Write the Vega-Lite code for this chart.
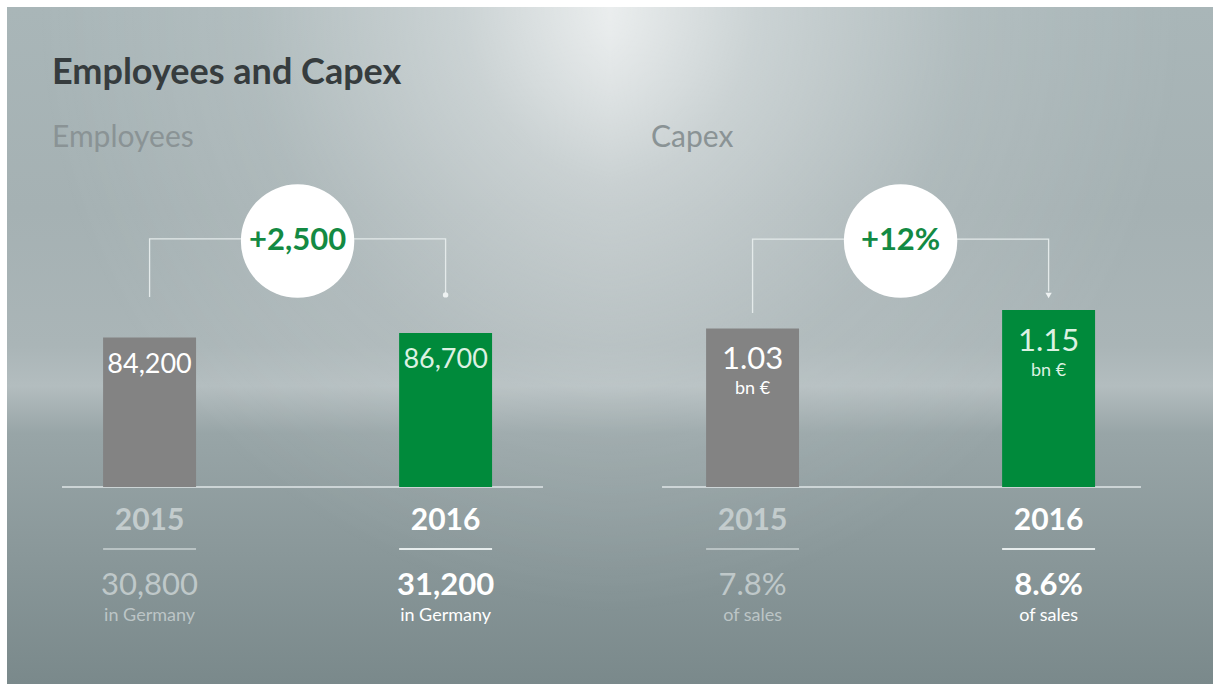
{
  "$schema": "https://vega.github.io/schema/vega-lite/v6.json",
  "background": "#ffffff",
  "padding": {"left": 7, "top": 7, "right": 0, "bottom": 0},
  "spacing": 0,
  "title": {"text": "Employees and Capex", "anchor": "start", "dx": 45, "offset": -113, "baseline": "alphabetic", "fontSize": 36, "font": "Lato", "fontWeight": "bold", "color": "#363c3e"},
  "config": {"view": {"stroke": null}, "font": "Lato"},
  "hconcat": [
    {
      "width": 603,
      "height": 677,
      "title": {"text": "Employees", "anchor": "start", "dx": 45, "offset": -170, "baseline": "alphabetic", "fontSize": 30, "font": "Lato", "fontWeight": "normal", "color": "#8a9395"},
      "view": {"stroke": null, "fill": {"gradient": "linear", "x1": 0, "y1": 0, "x2": 0, "y2": 1, "stops": [{"offset": 0, "color": "#a9b6b8"}, {"offset": 0.3, "color": "#a5b1b3"}, {"offset": 0.5, "color": "#aab5b7"}, {"offset": 0.56, "color": "#b3bdbf"}, {"offset": 0.63, "color": "#98a5a7"}, {"offset": 1, "color": "#7a898b"}]}},
      "data": {"values": [
        {"year": "2015", "value": 84200, "label": "84,200", "sub": "30,800", "note": "in Germany"},
        {"year": "2016", "value": 86700, "label": "86,700", "sub": "31,200", "note": "in Germany"}
      ]},
      "resolve": {"scale": {"color": "independent"}},
      "layer": [
        {
          "data": {"values": [{"bg": "highlight"}]},
          "mark": {"type": "rect", "fill": {"gradient": "radial", "x1": 1, "y1": 0, "r1": 0, "x2": 1, "y2": 0, "r2": 0.9, "stops": [{"offset": 0, "color": "rgba(255,255,255,0.85)"}, {"offset": 0.3, "color": "rgba(255,255,255,0.4)"}, {"offset": 0.65, "color": "rgba(255,255,255,0.1)"}, {"offset": 1, "color": "rgba(255,255,255,0)"}]}},
          "encoding": {}
        },
        {
          "data": {"values": [{"line": "baseline"}]},
          "mark": {"type": "rule", "color": "#dfe6e7", "strokeWidth": 1.5},
          "encoding": {
            "x": {"datum": "2015", "type": "nominal", "bandPosition": -0.442, "scale": {"domain": ["2015", "change", "2016"], "paddingInner": 0.372, "paddingOuter": 0.723, "align": 0.449}, "axis": null},
            "x2": {"datum": "2016", "bandPosition": 1.548},
            "y": {"datum": 0, "type": "quantitative", "scale": {"domain": [-110900, 270300], "nice": false, "zero": false}, "axis": null}
          }
        },
        {
          "data": {"values": [
            {"year": "2015", "y": 107000, "o": 1},
            {"year": "2015", "y": 139700, "o": 2},
            {"year": "2016", "y": 139700, "o": 3},
            {"year": "2016", "y": 109000, "o": 4}
          ]},
          "mark": {"type": "line", "color": "#e4eaea", "strokeWidth": 1.3, "interpolate": "linear"},
          "encoding": {
            "x": {"field": "year", "type": "nominal", "axis": null},
            "y": {"field": "y", "type": "quantitative", "axis": null},
            "order": {"field": "o"}
          }
        },
        {
          "data": {"values": [{"year": "2016", "y": 108200}]},
          "mark": {"type": "point", "shape": "circle", "filled": true, "color": "#eef2f2", "size": 30, "opacity": 1},
          "encoding": {
            "x": {"field": "year", "type": "nominal", "axis": null},
            "y": {"field": "y", "type": "quantitative", "axis": null}
          }
        },
        {
          "data": {"values": [{"year": "change", "y": 138500, "delta": "+2,500"}]},
          "mark": {"type": "point", "shape": "circle", "filled": true, "color": "#ffffff", "size": 12868, "opacity": 1},
          "encoding": {
            "x": {"field": "year", "type": "nominal", "axis": null},
            "y": {"field": "y", "type": "quantitative", "axis": null}
          }
        },
        {
          "data": {"values": [{"year": "change", "y": 138500, "delta": "+2,500"}]},
          "mark": {"type": "text", "font": "Lato", "fontWeight": "bold", "fontSize": 31, "color": "#138a43", "baseline": "middle", "align": "center", "dy": 0},
          "encoding": {
            "x": {"field": "year", "type": "nominal", "axis": null},
            "y": {"field": "y", "type": "quantitative", "axis": null},
            "text": {"field": "delta"}
          }
        },
        {
          "mark": {"type": "bar"},
          "encoding": {
            "x": {"field": "year", "type": "nominal", "axis": null},
            "y": {"field": "value", "type": "quantitative", "axis": null},
            "color": {"field": "year", "type": "nominal", "scale": {"domain": ["2015", "2016"], "range": ["#838383", "#008a3b"]}, "legend": null}
          }
        },
        {
          "mark": {"type": "text", "font": "Lato", "fontSize": 27, "color": "#ffffff", "baseline": "alphabetic", "align": "center", "dy": 35},
          "encoding": {
            "x": {"field": "year", "type": "nominal", "axis": null},
            "y": {"field": "value", "type": "quantitative", "axis": null},
            "text": {"field": "label"},
            "color": {"condition": {"test": "datum.year === '2016'", "value": "#dcf1e2"}, "value": "#ffffff"}
          }
        },
        {
          "mark": {"type": "text", "font": "Lato", "fontWeight": "bold", "fontSize": 30, "baseline": "alphabetic", "align": "center", "dy": 43},
          "encoding": {
            "x": {"field": "year", "type": "nominal", "axis": null},
            "y": {"datum": 0, "type": "quantitative"},
            "text": {"field": "year"},
            "color": {"condition": {"test": "datum.year === '2016'", "value": "#ffffff"}, "value": "#c3cccd"}
          }
        },
        {
          "mark": {"type": "rule", "strokeWidth": 2, "yOffset": 62},
          "encoding": {
            "x": {"field": "year", "type": "nominal", "bandPosition": 0, "axis": null},
            "x2": {"field": "year", "bandPosition": 1},
            "y": {"datum": 0, "type": "quantitative"},
            "color": {"condition": {"test": "datum.year === '2016'", "value": "#e6ecec"}, "value": "#b9c3c4"}
          }
        },
        {
          "transform": [{"filter": "datum.year === '2015'"}],
          "mark": {"type": "text", "font": "Lato", "fontWeight": "normal", "fontSize": 31, "color": "#bfc8c9", "baseline": "alphabetic", "align": "center", "dy": 108},
          "encoding": {
            "x": {"field": "year", "type": "nominal", "axis": null},
            "y": {"datum": 0, "type": "quantitative"},
            "text": {"field": "sub"}
          }
        },
        {
          "transform": [{"filter": "datum.year === '2016'"}],
          "mark": {"type": "text", "font": "Lato", "fontWeight": "bold", "fontSize": 31, "color": "#ffffff", "baseline": "alphabetic", "align": "center", "dy": 108},
          "encoding": {
            "x": {"field": "year", "type": "nominal", "axis": null},
            "y": {"datum": 0, "type": "quantitative"},
            "text": {"field": "sub"}
          }
        },
        {
          "mark": {"type": "text", "font": "Lato", "fontSize": 18, "baseline": "alphabetic", "align": "center", "dy": 134},
          "encoding": {
            "x": {"field": "year", "type": "nominal", "axis": null},
            "y": {"datum": 0, "type": "quantitative"},
            "text": {"field": "note"},
            "color": {"condition": {"test": "datum.year === '2016'", "value": "#ffffff"}, "value": "#bcc5c6"}
          }
        }
      ]
    },
    {
      "width": 603,
      "height": 677,
      "title": {"text": "Capex", "anchor": "start", "dx": 41, "offset": -170, "baseline": "alphabetic", "fontSize": 30, "font": "Lato", "fontWeight": "normal", "color": "#8a9395"},
      "view": {"stroke": null, "fill": {"gradient": "linear", "x1": 0, "y1": 0, "x2": 0, "y2": 1, "stops": [{"offset": 0, "color": "#a9b6b8"}, {"offset": 0.3, "color": "#a5b1b3"}, {"offset": 0.5, "color": "#aab5b7"}, {"offset": 0.56, "color": "#b3bdbf"}, {"offset": 0.63, "color": "#98a5a7"}, {"offset": 1, "color": "#7a898b"}]}},
      "data": {"values": [
        {"year": "2015", "value": 1.03, "label": "1.03", "unit": "bn €", "sub": "7.8%", "note": "of sales"},
        {"year": "2016", "value": 1.15, "label": "1.15", "unit": "bn €", "sub": "8.6%", "note": "of sales"}
      ]},
      "resolve": {"scale": {"color": "independent"}},
      "layer": [
        {
          "data": {"values": [{"bg": "highlight"}]},
          "mark": {"type": "rect", "fill": {"gradient": "radial", "x1": 0, "y1": 0, "r1": 0, "x2": 0, "y2": 0, "r2": 0.9, "stops": [{"offset": 0, "color": "rgba(255,255,255,0.85)"}, {"offset": 0.3, "color": "rgba(255,255,255,0.4)"}, {"offset": 0.65, "color": "rgba(255,255,255,0.1)"}, {"offset": 1, "color": "rgba(255,255,255,0)"}]}},
          "encoding": {}
        },
        {
          "data": {"values": [{"line": "baseline"}]},
          "mark": {"type": "rule", "color": "#dfe6e7", "strokeWidth": 1.5},
          "encoding": {
            "x": {"datum": "2015", "type": "nominal", "bandPosition": -0.474, "scale": {"domain": ["2015", "change", "2016"], "paddingInner": 0.372, "paddingOuter": 0.723, "align": 0.449}, "axis": null},
            "x2": {"datum": "2016", "bandPosition": 1.494},
            "y": {"datum": 0, "type": "quantitative", "scale": {"domain": [-1.28, 3.119], "nice": false, "zero": false}, "axis": null}
          }
        },
        {
          "data": {"values": [
            {"year": "2015", "y": 1.13, "o": 1},
            {"year": "2015", "y": 1.611, "o": 2},
            {"year": "2016", "y": 1.611, "o": 3},
            {"year": "2016", "y": 1.27, "o": 4}
          ]},
          "mark": {"type": "line", "color": "#e4eaea", "strokeWidth": 1.3, "interpolate": "linear"},
          "encoding": {
            "x": {"field": "year", "type": "nominal", "axis": null},
            "y": {"field": "y", "type": "quantitative", "axis": null},
            "order": {"field": "o"}
          }
        },
        {
          "data": {"values": [{"year": "2016", "y": 1.245}]},
          "mark": {"type": "point", "shape": "triangle-down", "filled": true, "color": "#eef2f2", "size": 40, "opacity": 1},
          "encoding": {
            "x": {"field": "year", "type": "nominal", "axis": null},
            "y": {"field": "y", "type": "quantitative", "axis": null}
          }
        },
        {
          "data": {"values": [{"year": "change", "y": 1.598, "delta": "+12%"}]},
          "mark": {"type": "point", "shape": "circle", "filled": true, "color": "#ffffff", "size": 12868, "opacity": 1},
          "encoding": {
            "x": {"field": "year", "type": "nominal", "axis": null},
            "y": {"field": "y", "type": "quantitative", "axis": null}
          }
        },
        {
          "data": {"values": [{"year": "change", "y": 1.598, "delta": "+12%"}]},
          "mark": {"type": "text", "font": "Lato", "fontWeight": "bold", "fontSize": 31, "color": "#138a43", "baseline": "middle", "align": "center", "dy": 0},
          "encoding": {
            "x": {"field": "year", "type": "nominal", "axis": null},
            "y": {"field": "y", "type": "quantitative", "axis": null},
            "text": {"field": "delta"}
          }
        },
        {
          "mark": {"type": "bar"},
          "encoding": {
            "x": {"field": "year", "type": "nominal", "axis": null},
            "y": {"field": "value", "type": "quantitative", "axis": null},
            "color": {"field": "year", "type": "nominal", "scale": {"domain": ["2015", "2016"], "range": ["#838383", "#008a3b"]}, "legend": null}
          }
        },
        {
          "mark": {"type": "text", "font": "Lato", "fontSize": 31, "baseline": "alphabetic", "align": "center", "dy": 41},
          "encoding": {
            "x": {"field": "year", "type": "nominal", "axis": null},
            "y": {"field": "value", "type": "quantitative", "axis": null},
            "text": {"field": "label"},
            "color": {"condition": {"test": "datum.year === '2016'", "value": "#dcf1e2"}, "value": "#ffffff"}
          }
        },
        {
          "mark": {"type": "text", "font": "Lato", "fontSize": 18, "baseline": "alphabetic", "align": "center", "dy": 66},
          "encoding": {
            "x": {"field": "year", "type": "nominal", "axis": null},
            "y": {"field": "value", "type": "quantitative", "axis": null},
            "text": {"field": "unit"},
            "color": {"condition": {"test": "datum.year === '2016'", "value": "#dcf1e2"}, "value": "#ffffff"}
          }
        },
        {
          "mark": {"type": "text", "font": "Lato", "fontWeight": "bold", "fontSize": 30, "baseline": "alphabetic", "align": "center", "dy": 43},
          "encoding": {
            "x": {"field": "year", "type": "nominal", "axis": null},
            "y": {"datum": 0, "type": "quantitative"},
            "text": {"field": "year"},
            "color": {"condition": {"test": "datum.year === '2016'", "value": "#ffffff"}, "value": "#c3cccd"}
          }
        },
        {
          "mark": {"type": "rule", "strokeWidth": 2, "yOffset": 62},
          "encoding": {
            "x": {"field": "year", "type": "nominal", "bandPosition": 0, "axis": null},
            "x2": {"field": "year", "bandPosition": 1},
            "y": {"datum": 0, "type": "quantitative"},
            "color": {"condition": {"test": "datum.year === '2016'", "value": "#e6ecec"}, "value": "#b9c3c4"}
          }
        },
        {
          "transform": [{"filter": "datum.year === '2015'"}],
          "mark": {"type": "text", "font": "Lato", "fontWeight": "normal", "fontSize": 31, "color": "#bfc8c9", "baseline": "alphabetic", "align": "center", "dy": 108},
          "encoding": {
            "x": {"field": "year", "type": "nominal", "axis": null},
            "y": {"datum": 0, "type": "quantitative"},
            "text": {"field": "sub"}
          }
        },
        {
          "transform": [{"filter": "datum.year === '2016'"}],
          "mark": {"type": "text", "font": "Lato", "fontWeight": "bold", "fontSize": 31, "color": "#ffffff", "baseline": "alphabetic", "align": "center", "dy": 108},
          "encoding": {
            "x": {"field": "year", "type": "nominal", "axis": null},
            "y": {"datum": 0, "type": "quantitative"},
            "text": {"field": "sub"}
          }
        },
        {
          "mark": {"type": "text", "font": "Lato", "fontSize": 18, "baseline": "alphabetic", "align": "center", "dy": 134},
          "encoding": {
            "x": {"field": "year", "type": "nominal", "axis": null},
            "y": {"datum": 0, "type": "quantitative"},
            "text": {"field": "note"},
            "color": {"condition": {"test": "datum.year === '2016'", "value": "#ffffff"}, "value": "#bcc5c6"}
          }
        }
      ]
    }
  ]
}
